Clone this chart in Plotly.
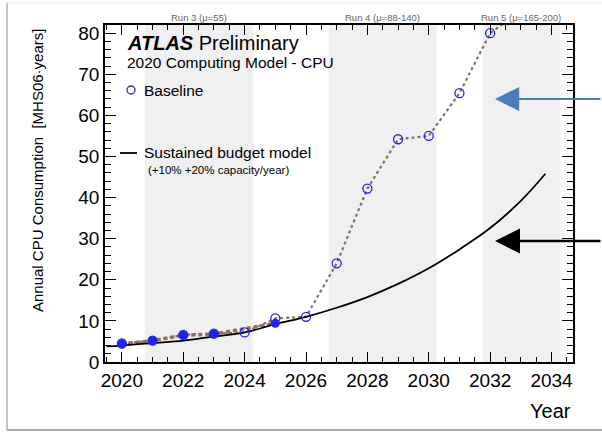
import plotly.graph_objects as go

# ---------------- data ----------------
baseline_years = [2020, 2021, 2022, 2023, 2024, 2025, 2026, 2027, 2028, 2029, 2030, 2031, 2032, 2033]
baseline_values = [4.5, 5.2, 6.6, 6.9, 7.2, 10.6, 11.0, 24.0, 42.2, 54.2, 55.0, 65.4, 80.0, 85.5]

measured_years = [2020, 2021, 2022, 2023, 2025]
measured_values = [4.4, 5.2, 6.5, 6.8, 9.4]

budget_years = [2019.5, 2020, 2021, 2022, 2023, 2024, 2025, 2026, 2027, 2028, 2029, 2030, 2031, 2032, 2033, 2033.8]
budget_values = [3.8, 4.0, 4.6, 5.2, 6.2, 7.2, 9.2, 11.0, 13.2, 15.8, 19.0, 22.8, 27.4, 32.6, 39.2, 45.8]

run_labels = ["Run 3 (\u03bc=55)", "Run 4 (\u03bc=88-140)", "Run 5 (\u03bc=165-200)"]
run_starts = [2020.75, 2026.74, 2031.76]
run_ends = [2024.27, 2030.26, 2034.27]

FONT = "Liberation Sans, Arial, Helvetica, sans-serif"
BLUE = "#2222ee"
BROWN = "#8a6f63"

# pixel -> paper helpers (plot area: x 105..573, y 25..362)
L, R, T, B = 105, 573, 25, 362
def px(xp):
    return (xp - L) / (R - L)
def py(yp):
    return (B - yp) / (B - T)

fig = go.Figure()

# dotted baseline line
fig.add_trace(go.Scatter(x=baseline_years, y=baseline_values, mode="lines",
                         line=dict(color=BROWN, width=2.2, dash="3px,3px"), showlegend=False,
                         hoverinfo="skip"))
# thick dotted line through early (measured) points
fig.add_trace(go.Scatter(x=measured_years, y=measured_values, mode="lines",
                         line=dict(color=BROWN, width=3.5, dash="4px,3px"), showlegend=False,
                         hoverinfo="skip"))
# sustained budget model
fig.add_trace(go.Scatter(x=budget_years, y=budget_values, mode="lines",
                         line=dict(color="black", width=1.8, shape="spline"), showlegend=False))
# filled markers
fig.add_trace(go.Scatter(x=measured_years, y=measured_values, mode="markers",
                         marker=dict(color=BLUE, size=9, symbol="circle"), showlegend=False))
# open baseline markers
fig.add_trace(go.Scatter(x=baseline_years, y=baseline_values, mode="markers",
                         marker=dict(color=BLUE, size=9, symbol="circle-open",
                                     line=dict(color=BLUE, width=1.3)), showlegend=False))

shapes = []
for s, e in zip(run_starts, run_ends):
    shapes.append(dict(type="rect", xref="x", yref="paper", x0=s, x1=e, y0=0, y1=1,
                       fillcolor="#f0f0f0", line=dict(width=0), layer="below"))

# legend elements
shapes.append(dict(type="circle", xref="paper", yref="paper", xsizemode="pixel", ysizemode="pixel",
                   xanchor=px(131), yanchor=py(90), x0=-4, x1=4, y0=-4, y1=4,
                   line=dict(color=BLUE, width=1.3)))
shapes.append(dict(type="line", xref="paper", yref="paper", x0=px(120), x1=px(137),
                   y0=py(153), y1=py(153), line=dict(color="black", width=1.8)))
# outer frame
shapes.append(dict(type="line", xref="paper", yref="paper", x0=px(7), x1=px(7),
                   y0=py(430), y1=py(3), line=dict(color="#b0b0b0", width=1.5)))
shapes.append(dict(type="line", xref="paper", yref="paper", x0=px(7), x1=px(620),
                   y0=py(430), y1=py(430), line=dict(color="#a8a8a8", width=2)))
shapes.append(dict(type="line", xref="paper", yref="paper", x0=px(7), x1=px(620),
                   y0=py(3), y1=py(3), line=dict(color="#ececec", width=1)))

annotations = []
for lab, s, e in zip(run_labels, run_starts, run_ends):
    annotations.append(dict(text=lab, x=(s + e) / 2, xref="x", y=py(17), yref="paper",
                            showarrow=False, font=dict(family=FONT, size=9.5, color="#666666"),
                            xanchor="center", yanchor="middle"))

annotations += [
    dict(text="<b><i>ATLAS</i></b> Preliminary", x=px(125), y=py(43), xanchor="left", yanchor="middle",
         font=dict(family=FONT, size=20, color="black")),
    dict(text="2020 Computing Model - CPU", x=px(125), y=py(62), xanchor="left", yanchor="middle",
         font=dict(family=FONT, size=15.5, color="black")),
    dict(text="Baseline", x=px(142), y=py(90), xanchor="left", yanchor="middle",
         font=dict(family=FONT, size=15.5, color="black")),
    dict(text="Sustained budget model", x=px(142), y=py(152), xanchor="left", yanchor="middle",
         font=dict(family=FONT, size=15.5, color="black")),
    dict(text="(+10% +20% capacity/year)", x=px(146), y=py(170), xanchor="left", yanchor="middle",
         font=dict(family=FONT, size=11.5, color="black")),
    dict(text="Annual CPU Consumption  [MHS06\u00b7years]", x=px(37), y=py(171), textangle=-90,
         xanchor="center", yanchor="middle", font=dict(family=FONT, size=15, color="black")),
    dict(text="Year", x=1, y=py(411), xanchor="right", yanchor="middle",
         font=dict(family=FONT, size=20, color="black")),
    # arrows
    dict(text="", x=px(495), y=py(99), ax=130, ay=0, showarrow=True, arrowhead=2,
         arrowsize=2.2, arrowwidth=2.2, arrowcolor="#4a7ebb", axref="pixel", ayref="pixel"),
    dict(text="", x=px(495), y=py(241), ax=130, ay=0, showarrow=True, arrowhead=2,
         arrowsize=2.0, arrowwidth=2.5, arrowcolor="black", axref="pixel", ayref="pixel"),
]
for a in annotations:
    a.setdefault("xref", "paper")
    a.setdefault("yref", "paper")
    a.setdefault("showarrow", False)

fig.update_layout(
    width=602, height=432,
    margin=dict(l=L, r=602 - R, t=T, b=432 - B),
    paper_bgcolor="white", plot_bgcolor="white",
    font=dict(family=FONT, color="black"),
    shapes=shapes, annotations=annotations,
    showlegend=False,
)
fig.update_xaxes(range=[2019.45, 2034.7], tickmode="linear", tick0=2020, dtick=2,
                 ticks="inside", ticklen=10, tickwidth=1.2, tickcolor="black",
                 showline=True, linecolor="black", linewidth=1.5, mirror="allticks",
                 showgrid=False, zeroline=False,
                 tickfont=dict(family=FONT, size=19, color="black"),
                 minor=dict(dtick=0.5, tick0=2020, ticks="inside", ticklen=5, tickwidth=1, tickcolor="black",
                            showgrid=False))
fig.update_yaxes(range=[0, 82], tickmode="linear", tick0=0, dtick=10,
                 ticks="inside", ticklen=11, tickwidth=1.2, tickcolor="black",
                 showline=True, linecolor="black", linewidth=1.5, mirror="allticks",
                 showgrid=False, zeroline=False,
                 tickfont=dict(family=FONT, size=19, color="black"),
                 minor=dict(dtick=2, tick0=0, ticks="inside", ticklen=6, tickwidth=1, tickcolor="black",
                            showgrid=False))

fig.write_html("out.html", config={"displayModeBar": False},
               post_script="document.body.style.margin='0px';document.body.style.padding='0px';")
